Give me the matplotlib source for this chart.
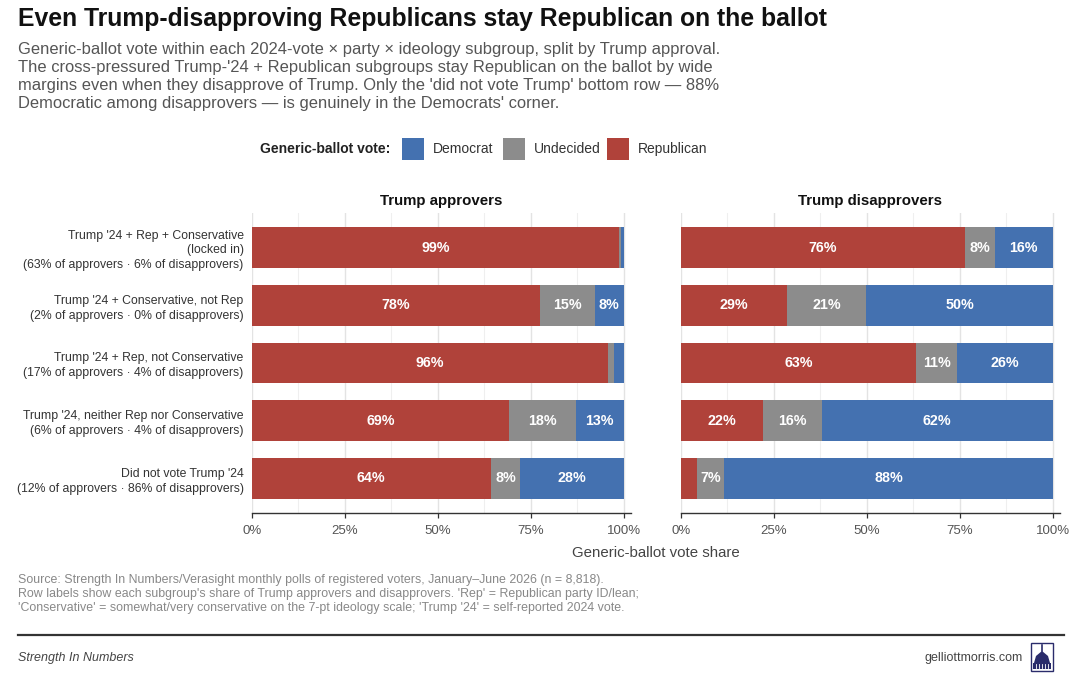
import matplotlib
matplotlib.use("Agg")
import matplotlib.pyplot as plt
import matplotlib.patches as patches
import numpy as np

plt.rcParams['font.family'] = ['Liberation Sans', 'DejaVu Sans']

# ---- data ----
row_labels = [
    "Trump '24 + Rep + Conservative\n(locked in)\n(63% of approvers \u00b7 6% of disapprovers)",
    "Trump '24 + Conservative, not Rep\n(2% of approvers \u00b7 0% of disapprovers)",
    "Trump '24 + Rep, not Conservative\n(17% of approvers \u00b7 4% of disapprovers)",
    "Trump '24, neither Rep nor Conservative\n(6% of approvers \u00b7 4% of disapprovers)",
    "Did not vote Trump '24\n(12% of approvers \u00b7 86% of disapprovers)",
]
panel_titles = ["Trump approvers", "Trump disapprovers"]

approve_rep = [98.9, 77.6, 95.9, 69.2, 64.2]
approve_und = [0.3, 14.6, 1.5, 18.0, 8.0]
approve_dem = [0.8, 7.8, 2.6, 12.8, 27.8]

disapprove_rep = [76.3, 28.6, 63.3, 22.1, 4.3]
disapprove_und = [8.1, 21.3, 11.0, 15.8, 7.4]
disapprove_dem = [15.6, 50.1, 25.7, 62.1, 88.3]

x_ticks = [0, 25, 50, 75, 100]
x_tick_labels = ["0%", "25%", "50%", "75%", "100%"]

RED = "#B0423A"
GREY = "#8C8C8C"
BLUE = "#4471B0"

W, H = 1080, 679
fig = plt.figure(figsize=(W / 100, H / 100), dpi=100)
fig.patch.set_facecolor("white")


def fx(x):
    return x / W


def fy(y):
    return 1 - y / H


# ---- header ----
fig.text(fx(18), fy(19), "Even Trump-disapproving Republicans stay Republican on the ballot",
         fontsize=17.8, fontweight="bold", color="#111111", va="center", ha="left")
subtitle = ("Generic-ballot vote within each 2024-vote \u00d7 party \u00d7 ideology subgroup, split by Trump approval.\n"
            "The cross-pressured Trump-'24 + Republican subgroups stay Republican on the ballot by wide\n"
            "margins even when they disapprove of Trump. Only the 'did not vote Trump' bottom row \u2014 88%\n"
            "Democratic among disapprovers \u2014 is genuinely in the Democrats' corner.")
fig.text(fx(18), fy(42), subtitle, fontsize=11.9, color="#555555", va="top", ha="left", linespacing=1.24)

# ---- legend ----
fig.text(fx(390), fy(149), "Generic-ballot vote:", fontsize=10, fontweight="bold",
         color="#222222", ha="right", va="center")
legend_items = [("Democrat", BLUE, 402), ("Undecided", GREY, 503), ("Republican", RED, 607)]
for name, col, x0 in legend_items:
    fig.patches.append(patches.Rectangle((fx(x0), fy(160)), fx(22), 22 / H, transform=fig.transFigure,
                                         facecolor=col, edgecolor="none"))
    fig.text(fx(x0 + 31), fy(149), name, fontsize=10, color="#333333", ha="left", va="center")

# ---- panels ----
ax_bottom = fy(513)
ax_height = 300 / H
ax_l = fig.add_axes([fx(252), ax_bottom, fx(379), ax_height])
ax_r = fig.add_axes([fx(681), ax_bottom, fx(379), ax_height])

ypos = np.arange(len(row_labels))[::-1] + 1
panels = [
    (ax_l, approve_rep, approve_und, approve_dem),
    (ax_r, disapprove_rep, disapprove_und, disapprove_dem),
]

for i, (ax, rep, und, dem) in enumerate(panels):
    rep = np.array(rep)
    und = np.array(und)
    dem = np.array(dem)
    ax.set_xlim(0, 102)
    ax.set_ylim(0.4, 5.6)
    for g in np.arange(12.5, 100, 25):
        ax.axvline(g, color="#EFEFEF", linewidth=0.8, zorder=0)
    for g in x_ticks:
        ax.axvline(g, color="#E3E3E3", linewidth=1.0, zorder=0)

    ax.barh(ypos, rep, height=0.7, color=RED, zorder=2)
    ax.barh(ypos, und, left=rep, height=0.7, color=GREY, zorder=2)
    ax.barh(ypos, dem, left=rep + und, height=0.7, color=BLUE, zorder=2)

    for vals, lefts in [(rep, np.zeros_like(rep)), (und, rep), (dem, rep + und)]:
        for y, v, l in zip(ypos, vals, lefts):
            if v >= 5:
                ax.text(l + v / 2, y, f"{v:.0f}%", color="white", fontsize=10.3,
                        fontweight="bold", ha="center", va="center", zorder=3)

    for s in ["top", "right", "left"]:
        ax.spines[s].set_visible(False)
    ax.spines["bottom"].set_color("#333333")
    ax.spines["bottom"].set_linewidth(1.0)
    ax.set_xticks(x_ticks)
    ax.set_xticklabels(x_tick_labels)
    ax.tick_params(axis="x", length=3.5, width=0.9, color="#333333", labelsize=9.5,
                   labelcolor="#555555", pad=5)
    ax.set_title(panel_titles[i], fontsize=10.8, fontweight="bold", color="#111111", pad=6)
    ax.set_yticks(ypos)
    if i == 0:
        ax.set_yticklabels(row_labels, fontsize=8.85, color="#333333", linespacing=1.3)
        ax.tick_params(axis="y", length=0, pad=6)
        for t in ax.get_yticklabels():
            t.set_multialignment("right")
    else:
        ax.set_yticklabels([])
        ax.tick_params(axis="y", length=0)

fig.text(fx(656), fy(553), "Generic-ballot vote share", fontsize=10.8, color="#444444",
         ha="center", va="center")

# ---- source ----
source = ("Source: Strength In Numbers/Verasight monthly polls of registered voters, January\u2013June 2026 (n = 8,818).\n"
          "Row labels show each subgroup's share of Trump approvers and disapprovers. 'Rep' = Republican party ID/lean;\n"
          "'Conservative' = somewhat/very conservative on the 7-pt ideology scale; 'Trump '24' = self-reported 2024 vote.")
fig.text(fx(18), fy(574), source, fontsize=8.9, color="#888888", ha="left", va="top", linespacing=1.22)

fig.lines.append(plt.Line2D([fx(18), fx(1064)], [fy(635), fy(635)], transform=fig.transFigure,
                            color="#333333", linewidth=1.6))

fig.text(fx(18), fy(658), "Strength In Numbers", fontsize=9, style="italic", color="#444444",
         ha="left", va="center")
fig.text(fx(1023), fy(658), "gelliottmorris.com", fontsize=9, color="#444444",
         ha="right", va="center")

# ---- small capitol logo ----
NAVY = "#2A2C6B"
fig.patches.append(patches.Rectangle((fx(1031), fy(671)), fx(22), 28 / H, transform=fig.transFigure,
                                     facecolor="white", edgecolor=NAVY, linewidth=1.0))
dome = patches.Polygon([(fx(1034), fy(663)), (fx(1036), fy(656)), (fx(1042), fy(651)),
                        (fx(1048), fy(656)), (fx(1050), fy(663))], closed=True,
                       transform=fig.transFigure, facecolor=NAVY, edgecolor="none")
fig.patches.append(dome)
fig.patches.append(patches.Rectangle((fx(1033), fy(669)), fx(18), 6 / H, transform=fig.transFigure,
                                     facecolor=NAVY, edgecolor="none"))
fig.lines.append(plt.Line2D([fx(1042), fx(1042)], [fy(651), fy(645)], transform=fig.transFigure,
                            color=NAVY, linewidth=1.2))
for cx in [1036, 1039, 1042, 1045, 1048]:
    fig.lines.append(plt.Line2D([fx(cx), fx(cx)], [fy(668), fy(664)], transform=fig.transFigure,
                                color="white", linewidth=0.6))

fig.savefig("out.png", dpi=100, facecolor="white")
